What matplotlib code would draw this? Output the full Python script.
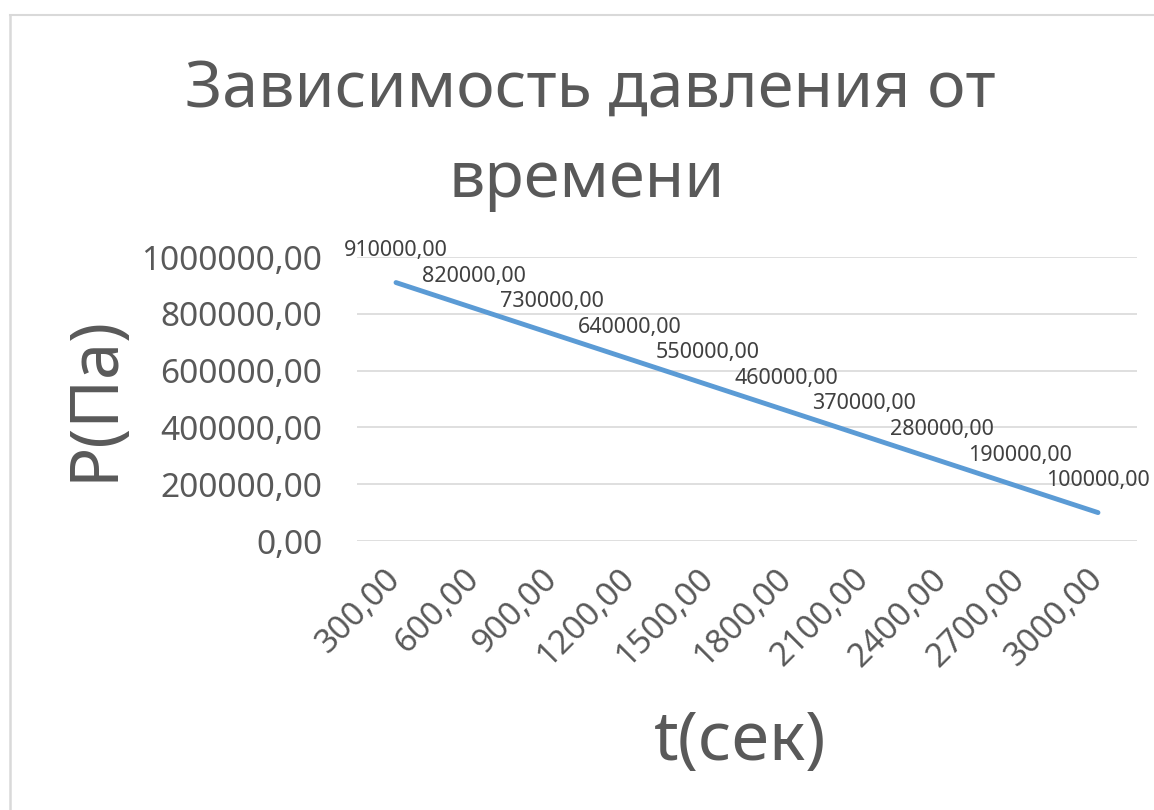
import matplotlib.pyplot as plt
from matplotlib.lines import Line2D

plt.rcParams['font.family'] = ['Noto Sans', 'DejaVu Sans']

t_labels = ['300,00', '600,00', '900,00', '1200,00', '1500,00',
            '1800,00', '2100,00', '2400,00', '2700,00', '3000,00']
pressure = [910000, 820000, 730000, 640000, 550000,
            460000, 370000, 280000, 190000, 100000]
y_ticks = [0, 200000, 400000, 600000, 800000, 1000000]

W, H = 1154, 810
fig = plt.figure(figsize=(W / 100, H / 100), dpi=100)
fig.patch.set_facecolor('white')

# рамка диаграммы (верх и лево)
fig.add_artist(Line2D([10 / W, 1.0], [1 - 15 / H, 1 - 15 / H], color='#D9D9D9', lw=1.5))
fig.add_artist(Line2D([10 / W, 10 / W], [0.0, 1 - 15 / H], color='#D9D9D9', lw=1.8))

left, right = 357 / W, 1137 / W
bottom, top = 1 - 541 / H, 1 - 257 / H
ax = fig.add_axes([left, bottom, right - left, top - bottom])

x = list(range(len(t_labels)))
ax.plot(x, pressure, color='#5B9BD5', lw=3.5, solid_capstyle='round', zorder=3)

for xi, p in zip(x, pressure):
    ax.annotate(f'{p},00', (xi, p), xytext=(0, 23), textcoords='offset points',
                ha='center', va='center', fontsize=15.5, color='#404040')

ax.set_xlim(-0.5, len(t_labels) - 0.5)
ax.set_ylim(0, 1000000)
ax.set_yticks(y_ticks)
ax.set_yticklabels([f'{v},00' for v in y_ticks])
ax.set_xticks(x)
ax.set_xticklabels(t_labels, rotation=45, ha='right', va='center', rotation_mode='anchor')

ax.grid(axis='y', color='#D9D9D9', lw=1.2)
ax.set_axisbelow(True)
for s in ['top', 'right', 'left', 'bottom']:
    ax.spines[s].set_visible(False)
ax.tick_params(axis='y', length=0, pad=25, labelsize=24, labelcolor='#595959')
ax.tick_params(axis='x', length=0, pad=24, labelsize=24, labelcolor='#595959')
for lbl in ax.get_xticklabels():
    lbl.set_x(0)

fig.text(590 / W, 1 - 107 / H, 'Зависимость давления от', ha='center', va='baseline',
         fontsize=46.5, color='#595959')
fig.text(587 / W, 1 - 197 / H, 'времени', ha='center', va='baseline',
         fontsize=46.5, color='#595959')
fig.text(95 / W, 1 - 398 / H, 'Р(Па)', ha='center', va='center', rotation=90,
         fontsize=48, color='#595959')
fig.text(740 / W, 1 - 742 / H, 't(сек)', ha='center', va='center',
         fontsize=49, color='#595959')

fig.savefig('out.png', dpi=100)
